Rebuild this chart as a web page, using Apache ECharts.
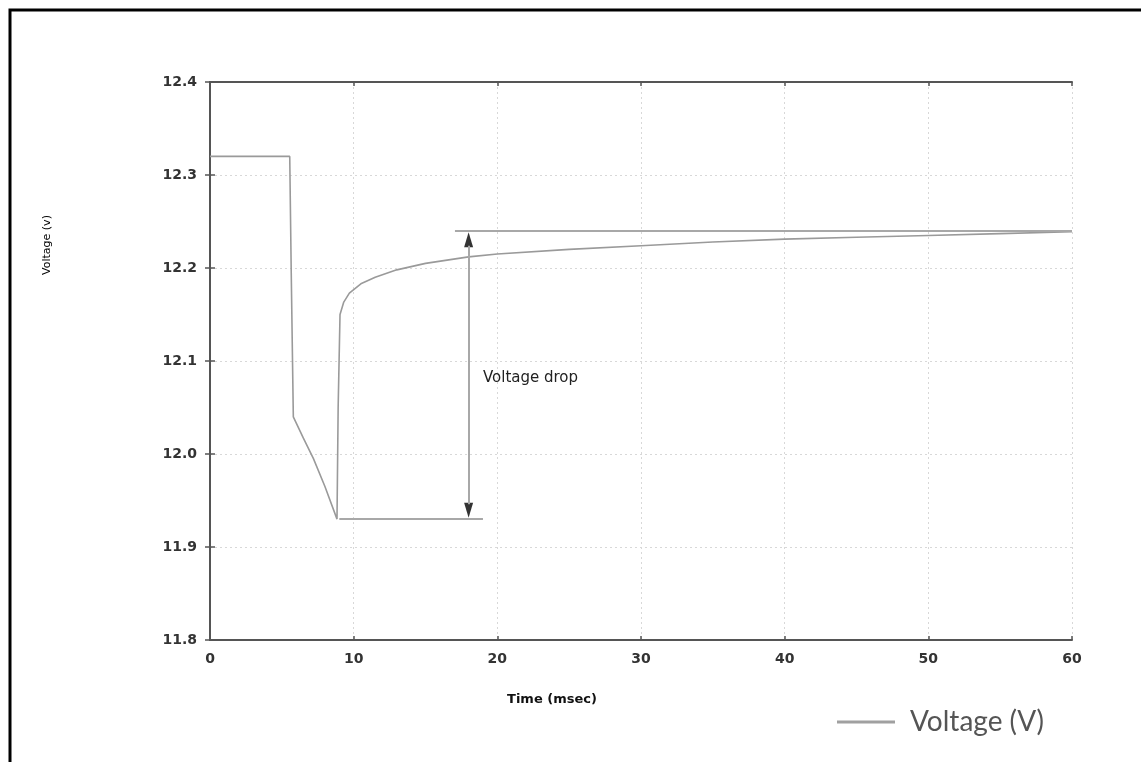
<!DOCTYPE html>
<html>
<head>
<meta charset="utf-8">
<script src="https://cdn.jsdelivr.net/npm/echarts@6/dist/echarts.min.js"></script>
<style>
html,body{margin:0;padding:0;background:#fff;}
#chart{width:1141px;height:762px;}
</style>
</head>
<body>
<div id="chart"></div>
<script>
// Data
var timeMs = [0, 1, 2, 3, 4, 5, 5.55, 5.65, 5.8, 6.5, 7.2, 8.0, 8.84, 8.92, 9.05, 9.3, 9.7, 10.5, 11.5, 13, 15, 18, 20, 25, 30, 35, 40, 45, 50, 55, 60];
var voltage = [12.32, 12.32, 12.32, 12.32, 12.32, 12.32, 12.32, 12.2, 12.04, 12.017, 11.995, 11.965, 11.93, 12.05, 12.15, 12.163, 12.173, 12.183, 12.19, 12.198, 12.205, 12.212, 12.215, 12.22, 12.224, 12.228, 12.231, 12.233, 12.235, 12.237, 12.239];
var xTicks = [0, 10, 20, 30, 40, 50, 60];
var yTicks = [11.8, 11.9, 12.0, 12.1, 12.2, 12.3, 12.4];
// Annotation values
var steadyLevel = 12.24;      // upper reference line
var steadyFrom = 17.05;
var minLevel = 11.93;         // lower reference line
var minFrom = 9.0, minTo = 19.0;
var arrowAt = 18.0;
var dropLabel = {x: 19.0, y: 12.082, text: 'Voltage drop'};

var chart = echarts.init(document.getElementById('chart'));
var fmtY = function(v){ return v.toFixed(1); };
var axisLineStyle = {show: true, lineStyle: {color: '#555', width: 2}};
var tickStyle = {show: true, inside: true, length: 4, lineStyle: {color: '#555', width: 1.5}};
var labelFont = {color: '#333', fontFamily: 'DejaVu Sans', fontWeight: 'bold', fontSize: 14};
var option = {
  animation: false,
  backgroundColor: '#fff',
  grid: {left: 210, top: 82, width: 862, height: 558, show: false},
  legend: {
    left: 832, top: 703, itemWidth: 58, itemHeight: 3, icon: 'rect', itemGap: 10,
    data: ['Voltage (V)'],
    textStyle: {fontFamily: 'Lato', fontSize: 28, color: '#555', padding: [0,0,0,10]}
  },
  xAxis: [{
    type: 'value', min: xTicks[0], max: xTicks[xTicks.length-1], interval: 10,
    axisLine: axisLineStyle, axisTick: tickStyle,
    axisLabel: Object.assign({margin: 12}, labelFont),
    splitLine: {show: true, lineStyle: {color: '#d8d8d8', width: 1, type: [2, 3]}}
  }, {
    type: 'value', position: 'top', min: xTicks[0], max: xTicks[xTicks.length-1], interval: 10,
    axisLine: axisLineStyle, axisTick: tickStyle,
    axisLabel: {show: false}, splitLine: {show: false}
  }],
  yAxis: [{
    type: 'value', min: yTicks[0], max: yTicks[yTicks.length-1], interval: 0.1,
    axisLine: axisLineStyle, axisTick: {show: true, inside: true, length: 5, lineStyle: {color: '#555', width: 1.5}},
    axisLabel: Object.assign({margin: 13, formatter: fmtY}, labelFont),
    splitLine: {show: true, lineStyle: {color: '#d8d8d8', width: 1, type: [2, 3]}}
  }, {
    type: 'value', position: 'right', min: yTicks[0], max: yTicks[yTicks.length-1], interval: 0.1,
    axisLine: axisLineStyle, axisTick: {show: true, inside: true, length: 5, lineStyle: {color: '#555', width: 1.5}},
    axisLabel: {show: false}, splitLine: {show: false}
  }],
  series: [{
    name: 'Voltage (V)', type: 'line', showSymbol: false, symbol: 'none',
    data: timeMs.map(function(t, i){ return [t, voltage[i]]; }),
    lineStyle: {color: '#9a9a9a', width: 1.6},
    itemStyle: {color: '#a0a0a0'},
    z: 3
  }, {
    name: 'annot', type: 'line', data: [], symbol: 'none',
    markLine: {
      silent: true, symbol: ['none', 'none'], label: {show: false},
      lineStyle: {color: '#a8a8a8', width: 2, type: 'solid'},
      data: [
        [{coord: [steadyFrom, steadyLevel]}, {coord: [xTicks[xTicks.length-1], steadyLevel]}],
        [{coord: [minFrom, minLevel]}, {coord: [minTo, minLevel]}],
        [{coord: [arrowAt, steadyLevel - 0.016]}, {coord: [arrowAt, minLevel + 0.016]}]
      ]
    },
    z: 2
  }, {
    name: 'arrowheads', type: 'scatter', silent: true,
    symbol: 'triangle', symbolSize: [9, 15],
    itemStyle: {color: '#333', opacity: 1},
    data: [
      {value: [arrowAt, steadyLevel - 0.0095], symbolRotate: 0},
      {value: [arrowAt, minLevel + 0.0095], symbolRotate: 180}
    ],
    z: 4
  }, {
    name: 'label', type: 'scatter', symbolSize: 0,
    itemStyle: {opacity: 1},
    data: [[dropLabel.x, dropLabel.y]],
    label: {show: true, position: 'right', distance: 0, formatter: dropLabel.text,
      color: '#222', fontFamily: 'DejaVu Sans', fontSize: 15},
    silent: true
  }],
  graphic: [
    {type: 'rect', shape: {x: 10, y: 10, width: 1300, height: 900}, style: {fill: 'none', stroke: '#000', lineWidth: 3}, silent: true},
    {type: 'text', x: 47, y: 245, rotation: Math.PI / 2, style: {text: 'Voltage (v)', fill: '#000', font: '11px "DejaVu Sans"', textAlign: 'center', textVerticalAlign: 'middle'}},
    {type: 'text', x: 552, y: 700, style: {text: 'Time (msec)', fill: '#111', font: 'bold 13px "DejaVu Sans"', textAlign: 'center', textVerticalAlign: 'middle'}}
  ]
};
chart.setOption(option);
</script>
</body>
</html>
